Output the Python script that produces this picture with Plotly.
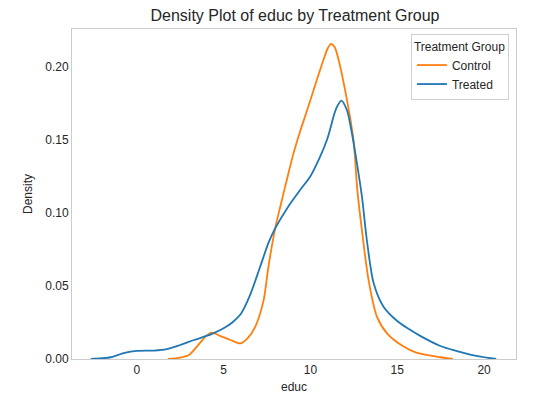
import plotly.graph_objects as go

# Control group density
control_x = [1.8, 2.5, 3.0, 3.5, 4.0, 4.3, 4.8, 5.4, 5.97, 6.4, 6.82, 7.3, 7.58, 7.97,
             8.3, 8.64, 9.03, 9.41, 9.8, 10.18, 10.7, 11.0, 11.18, 11.4, 11.6, 12.0,
             12.48, 12.7, 13.0, 13.35, 13.83, 14.41, 15.37, 16.1, 17.5, 18.2]
control_y = [0.0, 0.001, 0.0027, 0.009, 0.0158, 0.018, 0.0158, 0.013, 0.0107, 0.0144,
             0.022, 0.040, 0.063, 0.0895, 0.106, 0.1226, 0.141, 0.156, 0.170, 0.184,
             0.203, 0.2128, 0.2158, 0.2135, 0.206, 0.184, 0.150, 0.116, 0.085, 0.054,
             0.029, 0.0176, 0.0085, 0.0043, 0.0012, 0.0]

# Treated group density
treated_x = [-2.65, -2.0, -1.5, -0.7, 0.0, 1.0, 1.73, 2.5, 3.3, 4.3, 5.0, 5.5, 6.0,
             6.5, 7.1, 7.6, 7.97, 8.7, 9.41, 9.99, 10.56, 10.95, 11.15, 11.33, 11.5,
             11.78, 12.1, 12.39, 12.68, 12.97, 13.25, 13.64, 14.2, 15.0, 15.6, 16.4,
             17.48, 18.4, 19.2, 19.8, 20.7]
treated_y = [0.0, 0.0005, 0.0012, 0.0042, 0.0055, 0.0058, 0.0068, 0.0096, 0.013, 0.017,
             0.021, 0.025, 0.031, 0.043, 0.063, 0.080, 0.0895, 0.104, 0.1158, 0.125,
             0.1386, 0.150, 0.158, 0.166, 0.172, 0.177, 0.1705, 0.1546, 0.134, 0.111,
             0.0815, 0.052, 0.036, 0.026, 0.021, 0.0153, 0.0089, 0.0055, 0.003, 0.0016,
             0.0]

x_ticks = [0, 5, 10, 15, 20]
y_ticks = [0.0, 0.05, 0.10, 0.15, 0.20]

FONT = "Liberation Sans, Arial, sans-serif"
TXT = "#262626"

fig = go.Figure()
fig.add_trace(go.Scatter(x=control_x, y=control_y, mode="lines", name="Control",
                         line=dict(color="#ff7f0e", width=1.8, shape="spline", smoothing=0.8)))
fig.add_trace(go.Scatter(x=treated_x, y=treated_y, mode="lines", name="Treated",
                         line=dict(color="#1f77b4", width=1.8, shape="spline", smoothing=0.8)))

fig.update_layout(
    width=541, height=396,
    margin=dict(l=72, r=25, t=29, b=37),
    paper_bgcolor="white", plot_bgcolor="white",
    font=dict(family=FONT, color=TXT, size=12),
    title=dict(text="Density Plot of educ by Treatment Group", x=295 / 541,
               xanchor="center", y=1 - 15 / 396, yanchor="middle",
               font=dict(size=16, color=TXT, family=FONT)),
    xaxis=dict(range=[-3.73, 21.84], tickvals=x_ticks, ticktext=[str(v) for v in x_ticks],
               showgrid=False, zeroline=False, showline=True, linecolor="#cccccc",
               linewidth=1, mirror=True, ticks="", ticklen=0, automargin=False,
               title=dict(text="educ", standoff=6, font=dict(size=12)),
               tickfont=dict(size=12)),
    yaxis=dict(range=[0, 0.226], tickvals=y_ticks, ticktext=["0.00", "0.05", "0.10", "0.15", "0.20"],
               showgrid=False, zeroline=False, showline=True, linecolor="#cccccc",
               linewidth=1, mirror=True, ticks="", ticklen=0, automargin=False,
               title=dict(text="Density", standoff=10, font=dict(size=12)),
               tickfont=dict(size=12)),
    legend=dict(title=dict(text="Treatment Group", side="top", font=dict(size=12)),
                x=0.984, y=0.985, xanchor="right", yanchor="top",
                bordercolor="#d0d0d0", borderwidth=1, bgcolor="rgba(255,255,255,0.8)",
                font=dict(size=12), itemwidth=30, tracegroupgap=0),
    showlegend=True,
)

fig.write_html("out.html", config={"displayModeBar": False},
               post_script="document.body.style.margin='0';")
